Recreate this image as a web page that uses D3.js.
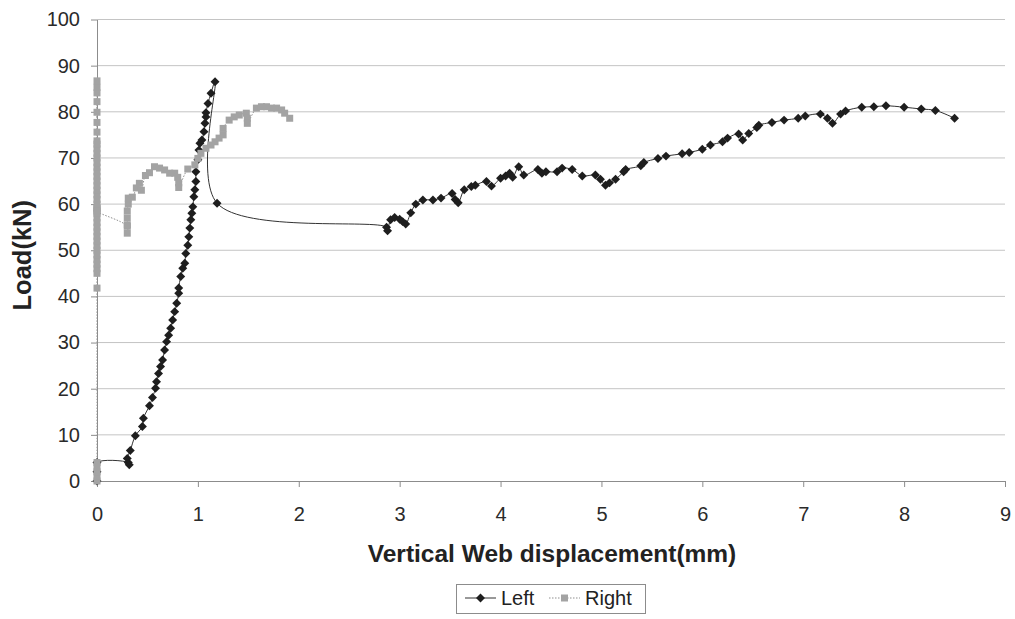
<!DOCTYPE html>
<html>
<head>
<meta charset="utf-8">
<script src="https://cdn.jsdelivr.net/npm/d3@7"></script>
<style>
  html, body { margin: 0; padding: 0; background: #fff; }
  svg { display: block; font-family: "Liberation Sans", Arial, sans-serif; }
</style>
</head>
<body>
<svg id="chart" width="1015" height="619"></svg>
<script>
// Web displacement under load, left and right gauges
const seriesNames = ["Left", "Right"];

const leftX = [0, 0, 0, 0.31, 0.32, 0.30, 0.33, 0.38, 0.45, 0.46, 0.52, 0.55, 0.58, 0.59, 0.61, 0.63, 0.65, 0.67, 0.69, 0.71, 0.73, 0.75, 0.77, 0.79, 0.81, 0.81, 0.83, 0.85, 0.87, 0.88, 0.90, 0.91, 0.92, 0.93, 0.94, 0.95, 0.96, 0.97, 0.98, 0.98, 1.00, 1.01, 1.02, 1.04, 1.06, 1.07, 1.08, 1.08, 1.10, 1.13, 1.17, 1.19,
  2.87, 2.88, 2.91, 2.95, 3.00, 3.03, 3.06, 3.11, 3.16, 3.23, 3.33, 3.41, 3.52, 3.55, 3.58, 3.64, 3.71, 3.75, 3.86, 3.91, 4.00, 4.05, 4.09, 4.12, 4.18, 4.23, 4.37, 4.41, 4.45, 4.56, 4.61, 4.71, 4.81, 4.94, 4.99, 5.04, 5.08, 5.14, 5.22, 5.24, 5.39, 5.42, 5.56, 5.64, 5.80, 5.87,
  6.00, 6.08, 6.20, 6.25, 6.36, 6.40, 6.46, 6.54, 6.56, 6.69, 6.81, 6.95, 7.02, 7.17, 7.24, 7.29, 7.37, 7.42, 7.58, 7.70, 7.82, 8.00, 8.17, 8.31, 8.50];
const leftLoad = [0, 2, 4, 4.0, 3.5, 4.9, 6.6, 9.8, 11.8, 13.6, 16.3, 18.1, 20.1, 21.5, 23.3, 24.8, 26.2, 28.4, 30.2, 31.6, 33.1, 34.9, 36.7, 38.5, 40.7, 41.8, 44.3, 46.1, 47.2, 49.3, 51.1, 52.9, 54.8, 56.6, 58.0, 59.4, 61.6, 63.1, 64.9, 67.0, 69.6, 71.7, 73.2, 73.9, 75.7, 77.5, 78.9, 79.8, 81.8, 84.0, 86.5, 60.2,
  55.0, 54.2, 56.6, 57.1, 56.7, 56.2, 55.7, 58.1, 60.0, 60.9, 60.9, 61.3, 62.3, 61.0, 60.3, 63.1, 63.8, 64.1, 64.9, 63.9, 65.6, 66.1, 66.7, 65.8, 68.1, 66.3, 67.5, 66.7, 67.0, 67.0, 67.8, 67.5, 66.1, 66.3, 65.4, 64.1, 64.6, 65.4, 67.0, 67.5, 68.3, 69.0, 69.9, 70.4, 70.9, 71.2,
  71.9, 72.8, 73.5, 74.3, 75.2, 73.9, 75.3, 76.6, 77.1, 77.7, 78.2, 78.6, 79.1, 79.5, 78.6, 77.5, 79.5, 80.2, 81.0, 81.1, 81.3, 81.0, 80.6, 80.3, 78.6];

const rightX = [0, 0, 0, 0, 0, 0, 0, 0, 0, 0, 0, 0, 0, 0, 0, 0, 0, 0, 0, 0, 0, 0, 0, 0, 0, 0, 0, 0, 0, 0, 0, 0, 0, 0, 0, 0, 0, 0, 0, 0, 0, 0, 0, 0, 0, 0,
  0.30, 0.30, 0.30, 0.30, 0.30, 0.31, 0.31, 0.35, 0.39, 0.42, 0.44, 0.48, 0.52, 0.57, 0.62, 0.67, 0.72, 0.77, 0.80, 0.81, 0.81,
  0.90, 0.97, 1.00, 1.03, 1.08, 1.13, 1.17, 1.21, 1.25, 1.25, 1.31, 1.36, 1.41, 1.48, 1.49, 1.49, 1.58, 1.63, 1.68, 1.73, 1.78, 1.83, 1.86, 1.91];
const rightLoad = [0, 1, 2, 3, 4, 41.8, 45, 46, 47, 48, 49, 50, 51, 52, 53, 54, 55, 56, 57, 58, 59, 60, 61, 62, 63, 64, 65, 66, 67, 68, 69, 70, 71, 72, 73, 73.7, 75.6, 77.7, 79.9, 82.2, 84.1, 85.3, 86.7, 59.2, 58.6, 58.4,
  55.2, 53.7, 55.5, 57.0, 58.5, 60.0, 61.3, 61.5, 63.5, 64.5, 63.0, 66.2, 66.8, 68.1, 67.8, 67.4, 66.7, 66.7, 65.8, 64.6, 63.6,
  67.6, 68.5, 69.9, 71.0, 72.1, 72.8, 73.5, 74.3, 75.0, 76.4, 78.2, 78.9, 79.3, 79.7, 78.6, 77.5, 80.8, 81.1, 81.1, 80.8, 80.8, 80.4, 79.7, 78.6];

const xTicks = [0, 1, 2, 3, 4, 5, 6, 7, 8, 9];
const yTicks = [0, 10, 20, 30, 40, 50, 60, 70, 80, 90, 100];
const xTitle = "Vertical Web displacement(mm)";
const yTitle = "Load(kN)";

const leftData = leftX.map((x, i) => ({ x, y: leftLoad[i] }));
const rightData = rightX.map((x, i) => ({ x, y: rightLoad[i] }));

const svg = d3.select("#chart");
const plot = { left: 97, right: 1005, top: 19.5, bottom: 481 };

const x = d3.scaleLinear().domain([0, 9]).range([plot.left, plot.right]);
const y = d3.scaleLinear().domain([0, 100]).range([plot.bottom, plot.top]);

// horizontal gridlines
svg.append("g")
  .selectAll("line")
  .data(yTicks.filter(d => d > 0))
  .join("line")
  .attr("x1", plot.left).attr("x2", plot.right)
  .attr("y1", d => y(d)).attr("y2", d => y(d))
  .attr("stroke", "#c4c4c4").attr("stroke-width", 1);

// axes
const xAxis = svg.append("g")
  .attr("transform", `translate(0,${plot.bottom})`)
  .call(d3.axisBottom(x).tickValues(xTicks).tickFormat(d3.format("d")).tickSizeInner(6).tickSizeOuter(0).tickPadding(20));
const yAxis = svg.append("g")
  .attr("transform", `translate(${plot.left},0)`)
  .call(d3.axisLeft(y).tickValues(yTicks).tickFormat(d3.format("d")).tickSizeInner(6).tickSizeOuter(0).tickPadding(11));

[xAxis, yAxis].forEach(g => {
  g.select(".domain").attr("stroke", "#8c8c8c");
  g.selectAll(".tick line").attr("stroke", "#8c8c8c");
  g.selectAll(".tick text")
    .attr("fill", "#2a2a2a")
    .style("font-size", "20px")
    .style("font-family", "'Liberation Sans', Arial, sans-serif");
});

// axis titles
svg.append("text")
  .attr("x", (plot.left + plot.right) / 2 + 1)
  .attr("y", 562)
  .attr("text-anchor", "middle")
  .attr("font-size", 24.5)
  .attr("font-weight", "bold")
  .attr("fill", "#222")
  .text(xTitle);

svg.append("text")
  .attr("transform", `translate(31,${(plot.top + plot.bottom) / 2 + 5}) rotate(-90)`)
  .attr("text-anchor", "middle")
  .attr("font-size", 25.5)
  .attr("font-weight", "bold")
  .attr("fill", "#222")
  .text(yTitle);

const lineGen = d3.line()
  .x(d => x(d.x))
  .y(d => y(d.y))
  .curve(d3.curveCatmullRom.alpha(0.5));

const diamond = d3.symbol().type(d3.symbolSquare).size(40);
const square = d3.symbol().type(d3.symbolSquare).size(49);

// Left series: solid line with diamonds
svg.append("path")
  .datum(leftData)
  .attr("d", lineGen)
  .attr("fill", "none")
  .attr("stroke", "#333")
  .attr("stroke-width", 1);

svg.append("g")
  .selectAll("path")
  .data(leftData)
  .join("path")
  .attr("transform", d => `translate(${x(d.x)},${y(d.y)}) rotate(45)`)
  .attr("d", diamond)
  .attr("fill", "#1e1e1e");

// Right series: dotted line with grey squares
svg.append("path")
  .datum(rightData)
  .attr("d", lineGen)
  .attr("fill", "none")
  .attr("stroke", "#8f8f8f")
  .attr("stroke-width", 1)
  .attr("stroke-dasharray", "1.5,1.5");

svg.append("g")
  .selectAll("path")
  .data(rightData)
  .join("path")
  .attr("transform", d => `translate(${x(d.x)},${y(d.y)})`)
  .attr("d", square)
  .attr("fill", "#a3a3a3");

// legend
const legend = svg.append("g");
legend.append("rect")
  .attr("x", 456.5).attr("y", 584.5)
  .attr("width", 189).attr("height", 29)
  .attr("fill", "#fff")
  .attr("stroke", "#8c8c8c");

const legendItems = [
  { name: seriesNames[0], x0: 465, x1: 496, tx: 501 },
  { name: seriesNames[1], x0: 549, x1: 580, tx: 585 }
];
const ly = 598;
legendItems.forEach((it, i) => {
  legend.append("line")
    .attr("x1", it.x0).attr("x2", it.x1)
    .attr("y1", ly).attr("y2", ly)
    .attr("stroke", i === 0 ? "#333" : "#8f8f8f")
    .attr("stroke-width", 1)
    .attr("stroke-dasharray", i === 0 ? null : "1.5,1.5");
  legend.append("path")
    .attr("transform", `translate(${(it.x0 + it.x1) / 2},${ly})` + (i === 0 ? " rotate(45)" : ""))
    .attr("d", i === 0 ? diamond : square)
    .attr("fill", i === 0 ? "#1e1e1e" : "#a3a3a3");
  legend.append("text")
    .attr("x", it.tx).attr("y", ly + 7)
    .attr("font-size", 20)
    .attr("fill", "#222")
    .text(it.name);
});
</script>
</body>
</html>
